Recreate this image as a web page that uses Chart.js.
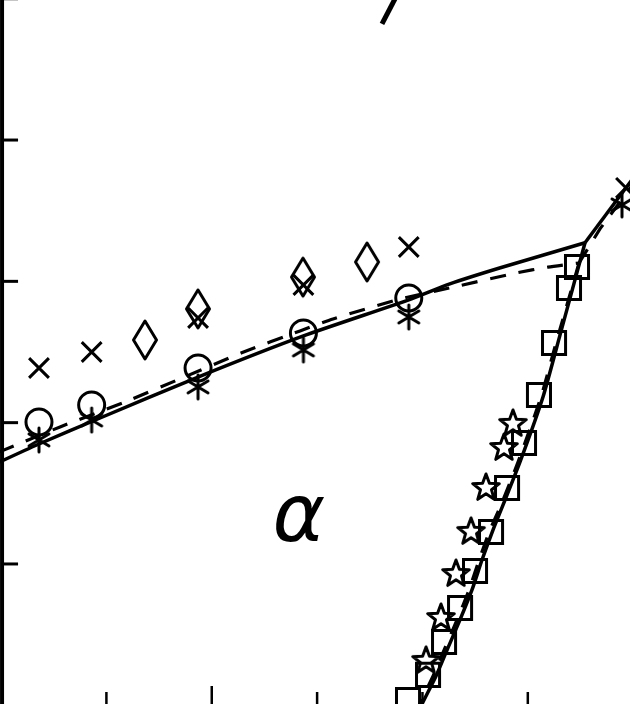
<!DOCTYPE html>
<html>
<head>
<meta charset="utf-8">
<script src="https://cdn.jsdelivr.net/npm/chart.js@4"></script>
<style>
html,body{margin:0;padding:0;background:#fff;}
#c{display:block;}
</style>
</head>
<body>
<canvas id="c" width="630" height="704"></canvas>
<script>
// ---- data ----
const circleX = [0.36, 0.86, 1.87, 2.87, 3.87];
const circleY = [2.005, 2.125, 2.387, 2.635, 2.883];

const asteriskX = [0.36, 0.86, 1.87, 2.87, 3.87, 5.894];
const asteriskY = [1.878, 2.019, 2.253, 2.515, 2.748, 3.541];

const crossX = [0.36, 0.86, 1.87, 2.87, 3.87, 5.932];
const crossY = [2.387, 2.500, 2.741, 2.974, 3.243, 3.661];

const diamondX = [1.366, 1.869, 2.866, 3.474];
const diamondY = [2.585, 2.805, 3.030, 3.137];

const squareX = [5.467, 5.391, 5.249, 5.106, 4.964, 4.803, 4.651, 4.499, 4.357, 4.205, 4.053, 3.863];
const squareY = [3.102, 2.953, 2.564, 2.196, 1.856, 1.538, 1.226, 0.950, 0.689, 0.448, 0.215, 0.038];

const starX = [4.859, 4.774, 4.603, 4.461, 4.318, 4.176, 4.034];
const starY = [1.998, 1.828, 1.545, 1.234, 0.936, 0.625, 0.321];

// solid boundary: low branch up to the kink
const solidLowX = [-0.02, 0.36, 0.94, 1.87, 2.87, 3.87, 4.26, 4.74, 5.543];
const solidLowY = [1.720, 1.849, 2.033, 2.323, 2.614, 2.869, 2.982, 3.096, 3.273];
// solid upper-right branch from the kink
const solidUpX = [5.543, 6.065];
const solidUpY = [3.273, 3.795];
// solid steep branch from the kink downward
const solidSteepX = [5.543, 5.306, 5.144, 4.926, 4.765, 4.670, 4.565, 4.470, 4.356, 4.242, 4.129, 3.996, 3.967];
const solidSteepY = [3.273, 2.621, 2.182, 1.722, 1.418, 1.241, 1.028, 0.816, 0.604, 0.406, 0.207, 0.009, -0.048];

// dashed boundary
const dashLowX = [-0.02, 0.560, 1.177, 1.718, 2.278, 2.838, 3.151, 3.787, 4.300, 4.888, 5.192, 5.486];
const dashLowY = [1.792, 1.970, 2.147, 2.316, 2.493, 2.649, 2.734, 2.875, 2.960, 3.059, 3.101, 3.130];
const dashUpX = [5.486, 5.685, 6.065];
const dashUpY = [3.130, 3.371, 3.754];
const dashSteepX = [5.486, 5.268, 5.125, 4.907, 4.746, 4.641, 4.537, 4.442, 4.328, 4.214, 4.100, 3.939];
const dashSteepY = [3.130, 2.564, 2.182, 1.722, 1.418, 1.241, 1.028, 0.816, 0.604, 0.406, 0.207, -0.048];

// fragment of another boundary at the top
const topLineX = [3.616, 3.749];
const topLineY = [4.822, 5.013];

const yTicks = [1, 2, 3, 4, 5];
const xTicks = [1, 2, 3, 4, 5];
const phaseLabel = 'α';
const phaseLabelPos = [2.828, 1.311];

// ---- helpers ----
const pts = (xs, ys) => xs.map((x, i) => ({x: x, y: ys[i]}));

function mkCanvas(w, h, draw) {
  const c = document.createElement('canvas');
  c.width = w; c.height = h;
  const g = c.getContext('2d');
  g.strokeStyle = '#000'; g.lineCap = 'round'; g.lineJoin = 'round';
  draw(g);
  return c;
}
const starImg = mkCanvas(34, 34, g => {
  g.lineWidth = 3;
  g.beginPath();
  for (let i = 0; i < 10; i++) {
    const r = i % 2 === 0 ? 14 : 5.8;
    const a = -Math.PI / 2 + i * Math.PI / 5;
    const px = 17 + r * Math.cos(a), py = 18 + r * Math.sin(a);
    if (i === 0) g.moveTo(px, py); else g.lineTo(px, py);
  }
  g.closePath(); g.stroke();
});
const diamondImg = mkCanvas(30, 44, g => {
  g.lineWidth = 3;
  g.beginPath();
  g.moveTo(15, 3); g.lineTo(26.5, 22); g.lineTo(15, 41); g.lineTo(3.5, 22);
  g.closePath(); g.stroke();
});
const asteriskImg = mkCanvas(28, 30, g => {
  g.lineWidth = 3;
  g.beginPath();
  g.moveTo(14, 3); g.lineTo(14, 27);
  g.moveTo(4, 9); g.lineTo(24, 21);
  g.moveTo(4, 21); g.lineTo(24, 9);
  g.stroke();
});

const lineDS = (data, dash, width, tension) => ({
  data: data, showLine: true, pointRadius: 0, borderColor: '#000',
  borderWidth: width || 3.5, borderDash: dash || [],
  tension: tension === undefined ? 0.2 : tension,
  fill: false, order: 2
});
const markDS = (data, style, radius) => ({
  data: data, showLine: false, pointStyle: style, pointRadius: radius,
  borderColor: '#000', backgroundColor: 'rgba(0,0,0,0)', pointBorderWidth: 3,
  order: 1
});

const framePlugin = {
  id: 'frame',
  afterDatasetsDraw(chart) {
    const ctx = chart.ctx, xs = chart.scales.x, ys = chart.scales.y;
    const a = chart.chartArea;
    ctx.save();
    ctx.strokeStyle = '#000';
    // left axis
    ctx.lineWidth = 4;
    const x0 = xs.getPixelForValue(0) + 1;
    ctx.beginPath(); ctx.moveTo(x0, a.top - 2); ctx.lineTo(x0, a.bottom + 2); ctx.stroke();
    // y ticks (inward)
    ctx.lineWidth = 3;
    yTicks.forEach(v => {
      const py = ys.getPixelForValue(v);
      ctx.beginPath(); ctx.moveTo(x0, py); ctx.lineTo(x0 + 16, py); ctx.stroke();
    });
    // x ticks (inward from the bottom)
    ctx.lineWidth = 2.5;
    xTicks.forEach(v => {
      const px = xs.getPixelForValue(v);
      const len = v === 2 ? 18 : 12;
      ctx.beginPath(); ctx.moveTo(px, a.bottom); ctx.lineTo(px, a.bottom - len); ctx.stroke();
    });
    // phase label
    ctx.fillStyle = '#000';
    ctx.font = 'italic 80px "DejaVu Sans"';
    ctx.textAlign = 'center';
    ctx.textBaseline = 'middle';
    ctx.fillText(phaseLabel, xs.getPixelForValue(phaseLabelPos[0]), ys.getPixelForValue(phaseLabelPos[1]));
    ctx.restore();
  }
};

new Chart(document.getElementById('c'), {
  type: 'scatter',
  data: {
    datasets: [
      lineDS(pts(solidLowX, solidLowY)),
      lineDS(pts(solidUpX, solidUpY), [], 3.5, 0),
      lineDS(pts(solidSteepX, solidSteepY)),
      lineDS(pts(dashLowX, dashLowY), [16, 13], 3.2),
      lineDS(pts(dashUpX, dashUpY), [16, 13], 3.2, 0),
      lineDS(pts(dashSteepX, dashSteepY), [16, 13], 3.2),
      lineDS(pts(topLineX, topLineY), [], 5, 0),
      markDS(pts(circleX, circleY), 'circle', 13),
      markDS(pts(asteriskX, asteriskY), asteriskImg, 12),
      markDS(pts(crossX, crossY), 'crossRot', 14),
      markDS(pts(diamondX, diamondY), diamondImg, 18),
      markDS(pts(squareX, squareY), 'rect', 16.3),
      markDS(pts(starX, starY), starImg, 14)
    ]
  },
  options: {
    responsive: false,
    animation: false,
    devicePixelRatio: 1,
    layout: {padding: 0, autoPadding: false},
    plugins: {legend: {display: false}, tooltip: {enabled: false}},
    scales: {
      x: {type: 'linear', min: -0.01, max: 5.97, display: false},
      y: {type: 'linear', min: 0.009, max: 4.991, display: false}
    }
  },
  plugins: [framePlugin]
});
</script>
</body>
</html>
